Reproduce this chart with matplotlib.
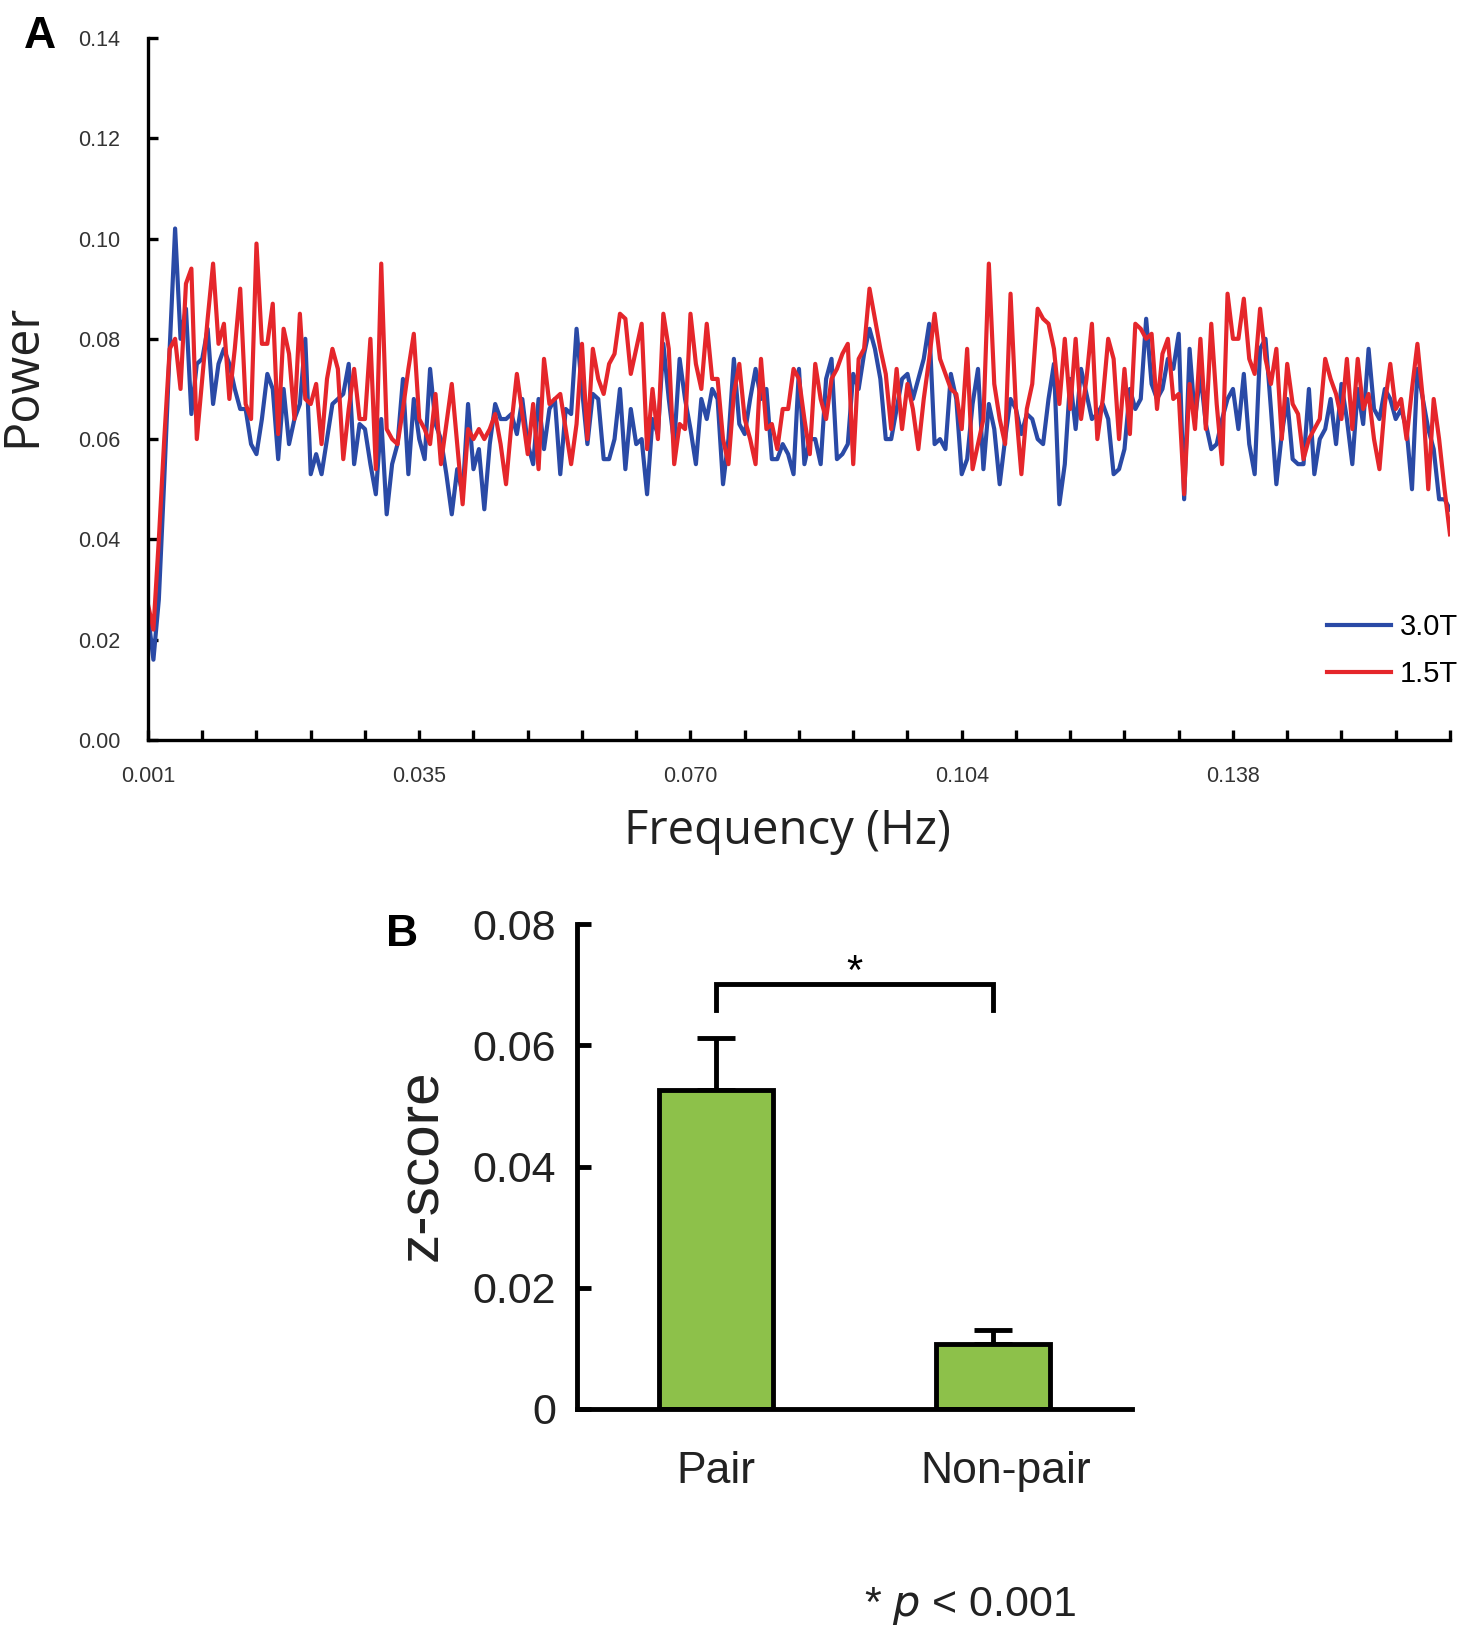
import numpy as np
import matplotlib
matplotlib.use('Agg')
import matplotlib.pyplot as plt
import matplotlib.transforms as mtransforms

#================================================
# Data

# Panel A: power spectrum, one value per frequency bin
power_30t = [
    0.025, 0.016, 0.028, 0.052, 0.078, 0.102, 0.080, 0.086, 0.065, 0.075,
    0.076, 0.082, 0.067, 0.075, 0.078, 0.075, 0.070, 0.066, 0.066, 0.059,
    0.057, 0.064, 0.073, 0.070, 0.056, 0.070, 0.059, 0.064, 0.067, 0.080,
    0.053, 0.057, 0.053, 0.060, 0.067, 0.068, 0.069, 0.075, 0.055, 0.063,
    0.062, 0.055, 0.049, 0.064, 0.045, 0.055, 0.059, 0.072, 0.053, 0.068,
    0.060, 0.056, 0.074, 0.063, 0.060, 0.053, 0.045, 0.054, 0.049, 0.067,
    0.054, 0.058, 0.046, 0.059, 0.067, 0.064, 0.064, 0.065, 0.061, 0.068,
    0.059, 0.055, 0.068, 0.058, 0.066, 0.068, 0.053, 0.066, 0.065, 0.082,
    0.070, 0.059, 0.069, 0.068, 0.056, 0.056, 0.060, 0.070, 0.054, 0.066,
    0.059, 0.060, 0.049, 0.064, 0.061, 0.079, 0.068, 0.059, 0.076, 0.068,
    0.062, 0.055, 0.068, 0.064, 0.070, 0.068, 0.051, 0.060, 0.076, 0.063,
    0.061, 0.068, 0.074, 0.068, 0.070, 0.056, 0.056, 0.059, 0.057, 0.053,
    0.074, 0.055, 0.060, 0.060, 0.055, 0.072, 0.076, 0.056, 0.057, 0.059,
    0.073, 0.070, 0.077, 0.082, 0.078, 0.072, 0.060, 0.060, 0.066, 0.072,
    0.073, 0.068, 0.072, 0.076, 0.083, 0.059, 0.060, 0.058, 0.073, 0.068,
    0.053, 0.056, 0.067, 0.074, 0.054, 0.067, 0.062, 0.051, 0.060, 0.068,
    0.066, 0.061, 0.065, 0.064, 0.060, 0.059, 0.068, 0.075, 0.047, 0.055,
    0.072, 0.062, 0.074, 0.069, 0.064, 0.065, 0.067, 0.064, 0.053, 0.054,
    0.058, 0.070, 0.066, 0.068, 0.084, 0.071, 0.068, 0.070, 0.076, 0.074,
    0.081, 0.048, 0.078, 0.064, 0.073, 0.063, 0.058, 0.059, 0.064, 0.068,
    0.070, 0.062, 0.073, 0.059, 0.053, 0.078, 0.080, 0.066, 0.051, 0.061,
    0.068, 0.056, 0.055, 0.055, 0.070, 0.053, 0.060, 0.062, 0.068, 0.059,
    0.071, 0.064, 0.055, 0.070, 0.063, 0.078, 0.066, 0.064, 0.070, 0.068,
    0.064, 0.066, 0.062, 0.050, 0.074, 0.068, 0.062, 0.058, 0.048, 0.048,
    0.046,
]
power_15t = [
    0.027, 0.022, 0.040, 0.060, 0.078, 0.080, 0.070, 0.091, 0.094, 0.060,
    0.072, 0.084, 0.095, 0.079, 0.083, 0.068, 0.078, 0.090, 0.067, 0.064,
    0.099, 0.079, 0.079, 0.087, 0.061, 0.082, 0.077, 0.064, 0.085, 0.068,
    0.067, 0.071, 0.059, 0.072, 0.078, 0.074, 0.056, 0.066, 0.074, 0.064,
    0.064, 0.080, 0.054, 0.095, 0.062, 0.060, 0.059, 0.066, 0.074, 0.081,
    0.064, 0.062, 0.059, 0.069, 0.055, 0.063, 0.071, 0.059, 0.047, 0.062,
    0.060, 0.062, 0.060, 0.062, 0.065, 0.059, 0.051, 0.063, 0.073, 0.065,
    0.057, 0.067, 0.054, 0.076, 0.067, 0.068, 0.069, 0.062, 0.055, 0.063,
    0.079, 0.060, 0.078, 0.072, 0.069, 0.075, 0.077, 0.085, 0.084, 0.073,
    0.078, 0.083, 0.058, 0.070, 0.060, 0.085, 0.078, 0.055, 0.063, 0.062,
    0.085, 0.075, 0.070, 0.083, 0.072, 0.072, 0.060, 0.055, 0.069, 0.075,
    0.064, 0.060, 0.055, 0.076, 0.062, 0.063, 0.058, 0.066, 0.066, 0.074,
    0.072, 0.064, 0.057, 0.075, 0.068, 0.064, 0.072, 0.074, 0.077, 0.079,
    0.055, 0.076, 0.078, 0.090, 0.084, 0.078, 0.073, 0.062, 0.074, 0.062,
    0.071, 0.066, 0.058, 0.068, 0.076, 0.085, 0.076, 0.073, 0.070, 0.069,
    0.062, 0.078, 0.054, 0.059, 0.064, 0.095, 0.071, 0.064, 0.059, 0.089,
    0.066, 0.053, 0.066, 0.071, 0.086, 0.084, 0.083, 0.078, 0.067, 0.080,
    0.066, 0.080, 0.064, 0.072, 0.083, 0.060, 0.068, 0.080, 0.076, 0.060,
    0.074, 0.061, 0.083, 0.082, 0.080, 0.081, 0.066, 0.077, 0.080, 0.068,
    0.069, 0.049, 0.071, 0.062, 0.080, 0.062, 0.083, 0.067, 0.055, 0.089,
    0.080, 0.080, 0.088, 0.076, 0.073, 0.086, 0.076, 0.071, 0.078, 0.060,
    0.075, 0.067, 0.065, 0.056, 0.060, 0.062, 0.064, 0.076, 0.072, 0.069,
    0.064, 0.076, 0.062, 0.076, 0.066, 0.069, 0.060, 0.054, 0.067, 0.075,
    0.066, 0.068, 0.060, 0.070, 0.079, 0.068, 0.050, 0.068, 0.060, 0.050,
    0.041,
]
freq_tick_labels = ['0.001', '0.035', '0.070', '0.104', '0.138']
series_labels = ['3.0T', '1.5T']

# Panel B: z-scores
groups = ['Pair', 'Non-pair']
zscore_mean = [0.0526, 0.0107]
zscore_sem = [0.0086, 0.0023]
bracket_low, bracket_high = 0.0658, 0.0701

#================================================
# Figure

plt.rcParams['font.family'] = ['Liberation Sans', 'DejaVu Sans']
fig = plt.figure(figsize=(14.71, 16.37), dpi=100)

blue = '#2a4aa6'
red = '#e5262b'
green = '#8dc14a'

# ---- Panel A
axA = fig.add_axes([0.1006, 0.5480, 0.8851, 0.4288])
axA.plot(np.arange(len(power_30t)), power_30t, color=blue, lw=3.0, label=series_labels[0])
axA.plot(np.arange(len(power_15t)), power_15t, color=red, lw=3.0, label=series_labels[1])
axA.set_xlim(0, 240)
axA.set_ylim(0, 0.14)
for s in ['top', 'right']:
    axA.spines[s].set_visible(False)
for s in ['left', 'bottom']:
    axA.spines[s].set_linewidth(2.4)
axA.set_yticks(np.arange(0, 0.141, 0.02))
axA.set_yticklabels(['%.2f' % v for v in np.arange(0, 0.141, 0.02)])
xt = np.arange(0, 241, 10)
axA.set_xticks(xt)
axA.set_xticklabels([freq_tick_labels[k // 50] if k % 50 == 0 and k // 50 < len(freq_tick_labels) else '' for k in xt])
axA.tick_params(direction='in', length=7, width=2.4, labelsize=15.5, labelcolor='#333333')
axA.tick_params(axis='y', pad=20)
axA.tick_params(axis='x', pad=19)
axA.legend(loc='lower right', bbox_to_anchor=(1.006, 0.074), frameon=False,
           fontsize=21, handlelength=2.2, handletextpad=0.3, labelspacing=0.65,
           borderaxespad=0, borderpad=0)

fig.text(0.0272, 0.9774, 'A', fontsize=32, fontweight='bold', ha='center', va='center')
fig.text(0.0156, 0.7709, 'Power', fontsize=35, rotation=90, ha='center', va='center',
         family=['Open Sans', 'DejaVu Sans'], color='#222222')
fig.text(0.535, 0.4924, 'Frequency (Hz)', fontsize=34, ha='center', va='center',
         family=['Open Sans', 'DejaVu Sans'], color='#222222')

# ---- Panel B
axB = fig.add_axes([0.3923, 0.1393, 0.3772, 0.2962])
pos = np.arange(len(groups))
axB.errorbar(pos, zscore_mean, yerr=[np.zeros(len(groups)), zscore_sem], fmt='none',
             ecolor='black', elinewidth=3.5, capsize=14, capthick=3.5, zorder=1)
axB.bar(pos, zscore_mean, width=0.41, color=green, edgecolor='black', linewidth=3.5, zorder=2)
axB.plot([pos[0], pos[0], pos[1], pos[1]], [bracket_low, bracket_high, bracket_high, bracket_low],
         color='black', lw=3.5, solid_joinstyle='miter')
axB.text((pos[0] + pos[1]) / 2, bracket_high + 0.0018, '*', fontsize=30, ha='center', va='center')
axB.set_xlim(-0.5, 1.5)
axB.set_ylim(0, 0.08)
for s in ['top', 'right']:
    axB.spines[s].set_visible(False)
for s in ['left', 'bottom']:
    axB.spines[s].set_linewidth(3.5)
axB.set_yticks([0, 0.02, 0.04, 0.06, 0.08])
axB.set_yticklabels(['0', '0.02', '0.04', '0.06', '0.08'])
axB.set_xticks(pos)
axB.set_xticklabels(groups)
axB.tick_params(axis='y', direction='in', length=10, width=3.5, labelsize=31, pad=15, labelcolor='#222222')
axB.tick_params(axis='x', length=0, labelsize=32, pad=30, labelcolor='#222222')
# the Non-pair label sits a little right of its bar in the reference
lab = axB.get_xticklabels()[1]
lab.set_transform(lab.get_transform() + mtransforms.ScaledTranslation(12 / 100, 0, fig.dpi_scale_trans))

fig.text(0.2733, 0.4294, 'B', fontsize=32, fontweight='bold', ha='center', va='center')
fig.text(0.2869, 0.2883, 'z-score', fontsize=42, rotation=90, ha='center', va='center', color='#222222')
fig.text(0.6594, 0.0189, '* $\\it{p}$ < 0.001', fontsize=31, ha='center', va='center', color='#222222')

fig.savefig('out.png', dpi=100)
